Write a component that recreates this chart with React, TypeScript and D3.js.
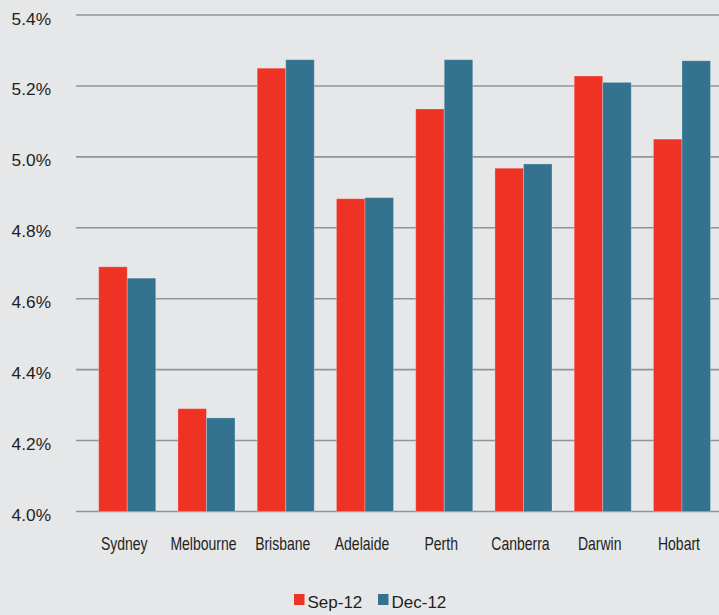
import React, { useEffect, useRef } from "react";
import * as d3 from "d3";

const cities = ["Sydney", "Melbourne", "Brisbane", "Adelaide", "Perth", "Canberra", "Darwin", "Hobart"];
const series = ["Sep-12", "Dec-12"];
const sep12 = [4.69, 4.29, 5.25, 4.882, 5.135, 4.968, 5.228, 5.05];
const dec12 = [4.658, 4.264, 5.274, 4.885, 5.274, 4.98, 5.21, 5.271];
const yTicks = [4.0, 4.2, 4.4, 4.6, 4.8, 5.0, 5.2, 5.4];

const colors = ["#ee3325", "#33738f"];

export default function App() {
  const ref = useRef<SVGSVGElement | null>(null);

  useEffect(() => {
    if (!ref.current) return;
    const width = 719,
      height = 615;

    const svg = d3.select(ref.current);
    svg.selectAll("*").remove();

    svg.append("rect").attr("width", width).attr("height", height).attr("fill", "#e6e7e9");

    const y = d3.scaleLinear().domain([4.0, 5.4]).range([511.5, 15]);
    const x0 = d3.scaleBand().domain(cities).range([87.6, 721.6]).paddingInner(0.28).paddingOuter(0.14);
    const x1 = d3.scaleBand().domain(series).range([0, x0.bandwidth()]);

    // gridlines + tick labels
    const grid = svg.append("g");
    grid
      .selectAll("line")
      .data(yTicks)
      .enter()
      .append("line")
      .attr("x1", 76)
      .attr("x2", width)
      .attr("y1", d => y(d))
      .attr("y2", d => y(d))
      .attr("stroke", "#929497")
      .attr("stroke-width", 1.6);

    grid
      .selectAll("text")
      .data(yTicks)
      .enter()
      .append("text")
      .attr("x", 51)
      .attr("y", d => y(d) + 9.5)
      .attr("text-anchor", "end")
      .attr("font-family", "'Liberation Sans', Arial, sans-serif")
      .attr("font-size", 17.3)
      .attr("fill", "#231f20")
      .text(d => d.toFixed(1) + "%");

    // bars
    const rows = cities.map((c, i) => ({ city: c, values: [sep12[i], dec12[i]] }));
    const groups = svg
      .append("g")
      .selectAll("g")
      .data(rows)
      .enter()
      .append("g")
      .attr("transform", d => `translate(${x0(d.city)},0)`);

    groups
      .selectAll("rect")
      .data(d => d.values.map((v, i) => ({ key: series[i], v, i })))
      .enter()
      .append("rect")
      .attr("x", d => x1(d.key)!)
      .attr("y", d => y(d.v))
      .attr("width", x1.bandwidth())
      .attr("height", d => y(4.0) - y(d.v))
      .attr("fill", d => colors[d.i])
      .attr("stroke", "rgba(255,255,255,0.25)")
      .attr("stroke-width", 1);

    // category labels (condensed look)
    svg
      .append("g")
      .selectAll("text")
      .data(cities)
      .enter()
      .append("text")
      .attr("transform", d => `translate(${x0(d)! + x0.bandwidth() / 2 - 3},550) scale(0.8,1)`)
      .attr("text-anchor", "middle")
      .attr("font-family", "'Liberation Sans', Arial, sans-serif")
      .attr("font-size", 17.5)
      .attr("fill", "#231f20")
      .text(d => d);

    // legend
    const legendX = [294, 378];
    const legend = svg
      .append("g")
      .selectAll("g")
      .data(series)
      .enter()
      .append("g")
      .attr("transform", (d, i) => `translate(${legendX[i]},594)`);
    legend
      .append("rect")
      .attr("width", 10.5)
      .attr("height", 11)
      .attr("fill", (d, i) => colors[i]);
    legend
      .append("text")
      .attr("x", 13.5)
      .attr("y", 13.5)
      .attr("font-family", "'Liberation Sans', Arial, sans-serif")
      .attr("font-size", 17)
      .attr("fill", "#231f20")
      .text(d => d);
  }, []);

  return (
    <svg
      ref={ref}
      width={719}
      height={615}
      style={{ position: "absolute", left: 0, top: 0, display: "block" }}
    />
  );
}
